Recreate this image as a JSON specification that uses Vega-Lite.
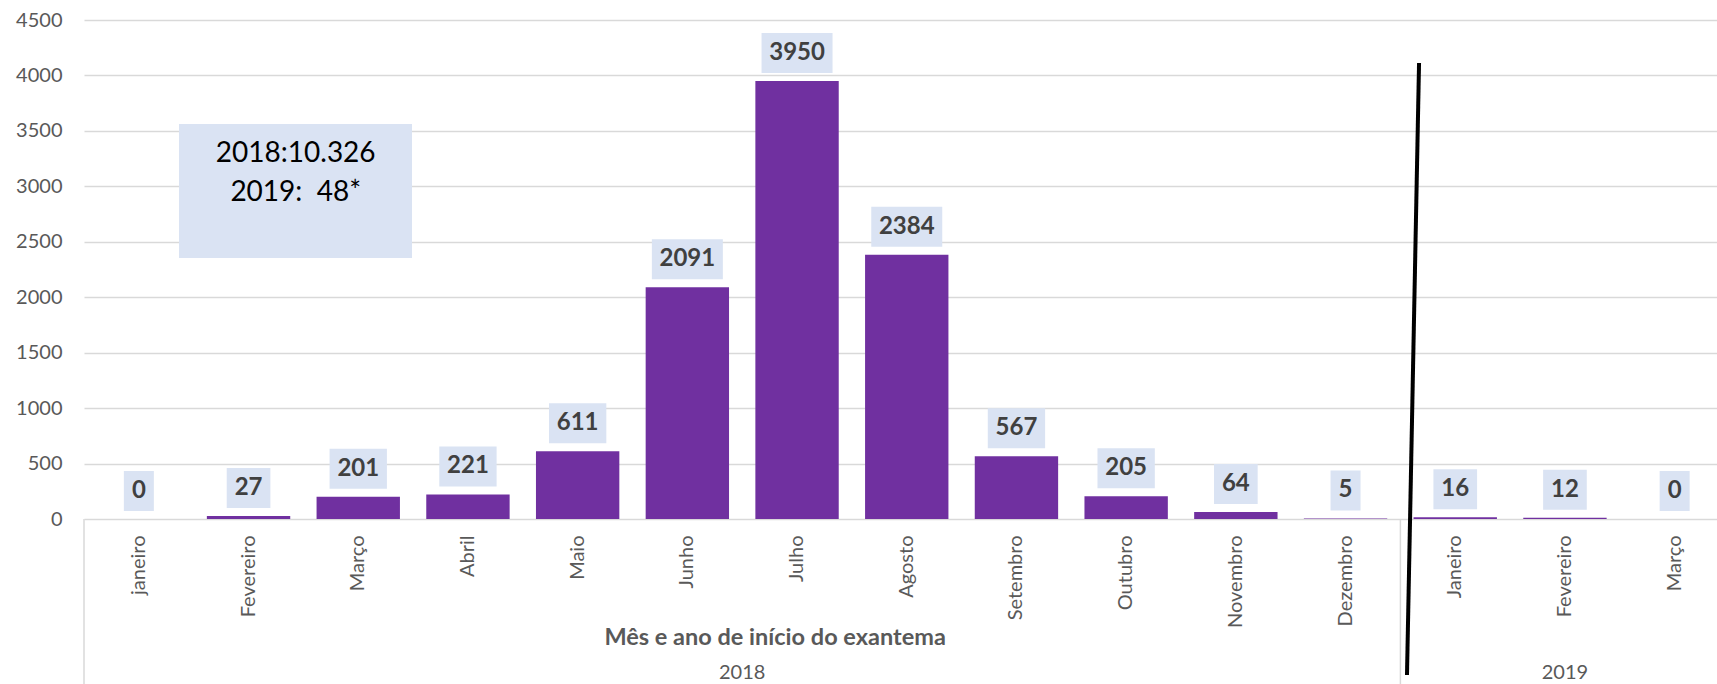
{
  "$schema": "https://vega.github.io/schema/vega-lite/v6.json",
  "width": 1633,
  "height": 499,
  "autosize": {"type": "none"},
  "padding": {"left": 84, "top": 20, "right": 0, "bottom": 165},
  "background": "white",
  "config": {"view": {"stroke": null}, "font": "Lato"},
  "datasets": {
    "casos": [
      {"mes": "janeiro|2018", "casos": 0},
      {"mes": "Fevereiro|2018", "casos": 27},
      {"mes": "Março|2018", "casos": 201},
      {"mes": "Abril|2018", "casos": 221},
      {"mes": "Maio|2018", "casos": 611},
      {"mes": "Junho|2018", "casos": 2091},
      {"mes": "Julho|2018", "casos": 3950},
      {"mes": "Agosto|2018", "casos": 2384},
      {"mes": "Setembro|2018", "casos": 567},
      {"mes": "Outubro|2018", "casos": 205},
      {"mes": "Novembro|2018", "casos": 64},
      {"mes": "Dezembro|2018", "casos": 5},
      {"mes": "Janeiro|2019", "casos": 16},
      {"mes": "Fevereiro|2019", "casos": 12},
      {"mes": "Março|2019", "casos": 0}
    ],
    "caixa": [{"x": 0.866, "x2": 2.99, "y": 3562, "y2": 2354}],
    "texto": [
      {"x": 1.93, "y": 3292, "t": "2018:10.326"},
      {"x": 1.93, "y": 2940, "t": "2019:\u00a0 48*"}
    ],
    "anos": [
      {"x": 6, "y": -1389, "t": "2018"},
      {"x": 13.5, "y": -1389, "t": "2019"}
    ],
    "titulo": [{"x": 6.3, "y": -1073, "t": "Mês e ano de início do exantema"}],
    "separadores": [
      {"x": 0, "y": 0, "y2": -1500},
      {"x": 12, "y": 0, "y2": -1500}
    ],
    "linha": [{"x": 12.17, "y": 4112, "x2": 12.06, "y2": -1407}]
  },
  "layer": [
    {
      "data": {"name": "casos"},
      "transform": [{"calculate": "length(toString(datum.casos))", "as": "digitos"}],
      "encoding": {
        "x": {
          "field": "mes",
          "type": "nominal",
          "sort": null,
          "scale": {"range": [0, 1645.5], "paddingInner": 0.24, "paddingOuter": 0.12},
          "axis": {
            "title": null,
            "labelExpr": "split(datum.value, '|')[0]",
            "labelAngle": -90,
            "labelAlign": "right",
            "labelBaseline": "middle",
            "labelFontSize": 20,
            "labelColor": "#595959",
            "labelFont": "Lato",
            "labelPadding": 16,
            "ticks": false,
            "domain": false,
            "grid": false
          }
        }
      },
      "layer": [
        {
          "mark": {"type": "bar", "color": "#7030A0"},
          "encoding": {
            "y": {
              "field": "casos",
              "type": "quantitative",
              "scale": {"domain": [0, 4500], "nice": false},
              "axis": {
                "title": null,
                "values": [0, 500, 1000, 1500, 2000, 2500, 3000, 3500, 4000, 4500],
                "format": "d",
                "labelFontSize": 20,
                "labelColor": "#595959",
                "labelFont": "Lato",
                "labelPadding": 22,
                "ticks": false,
                "domain": false,
                "grid": true,
                "gridColor": "#D9D9D9",
                "gridWidth": 1.5
              }
            }
          }
        },
        {
          "mark": {"type": "bar", "color": "#DAE3F3", "yOffset": -48, "y2Offset": -8},
          "encoding": {
            "y": {"field": "casos", "type": "quantitative", "scale": {"domain": [0, 4500], "nice": false}},
            "y2": {"field": "casos"},
            "size": {"field": "digitos", "type": "quantitative", "scale": {"domain": [1, 4], "range": [30, 71]}, "legend": null}
          }
        },
        {
          "mark": {"type": "text", "dy": -28, "fontWeight": "bold", "fontSize": 24, "color": "#404040", "baseline": "middle", "align": "center", "font": "Lato"},
          "encoding": {
            "y": {"field": "casos", "type": "quantitative", "scale": {"domain": [0, 4500], "nice": false}},
            "text": {"field": "casos", "type": "quantitative", "format": "d"}
          }
        }
      ]
    },
    {
      "layer": [
        {
          "data": {"name": "caixa"},
          "mark": {"type": "rect", "color": "#DAE3F3"},
          "encoding": {
            "x": {"field": "x", "type": "quantitative", "scale": {"domain": [0, 15], "range": [0, 1645.5], "nice": false, "zero": false}, "axis": null},
            "x2": {"field": "x2"},
            "y": {"field": "y", "type": "quantitative", "scale": {"domain": [0, 4500], "nice": false}, "axis": null},
            "y2": {"field": "y2"}
          }
        },
        {
          "data": {"name": "texto"},
          "mark": {"type": "text", "fontSize": 28, "color": "#000000", "align": "center", "baseline": "middle", "font": "Lato"},
          "encoding": {
            "x": {"field": "x", "type": "quantitative", "scale": {"domain": [0, 15], "range": [0, 1645.5], "nice": false, "zero": false}, "axis": null},
            "y": {"field": "y", "type": "quantitative", "scale": {"domain": [0, 4500], "nice": false}, "axis": null},
            "text": {"field": "t"}
          }
        },
        {
          "data": {"name": "anos"},
          "mark": {"type": "text", "fontSize": 20, "color": "#595959", "align": "center", "baseline": "middle", "font": "Lato"},
          "encoding": {
            "x": {"field": "x", "type": "quantitative", "scale": {"domain": [0, 15], "range": [0, 1645.5], "nice": false, "zero": false}, "axis": null},
            "y": {"field": "y", "type": "quantitative", "scale": {"domain": [0, 4500], "nice": false}, "axis": null},
            "text": {"field": "t"}
          }
        },
        {
          "data": {"name": "titulo"},
          "mark": {"type": "text", "fontSize": 23.5, "fontWeight": "bold", "color": "#595959", "align": "center", "baseline": "middle", "font": "Lato"},
          "encoding": {
            "x": {"field": "x", "type": "quantitative", "scale": {"domain": [0, 15], "range": [0, 1645.5], "nice": false, "zero": false}, "axis": null},
            "y": {"field": "y", "type": "quantitative", "scale": {"domain": [0, 4500], "nice": false}, "axis": null},
            "text": {"field": "t"}
          }
        },
        {
          "data": {"name": "separadores"},
          "mark": {"type": "rule", "color": "#D9D9D9", "strokeWidth": 1.5},
          "encoding": {
            "x": {"field": "x", "type": "quantitative", "scale": {"domain": [0, 15], "range": [0, 1645.5], "nice": false, "zero": false}, "axis": null},
            "y": {"field": "y", "type": "quantitative", "scale": {"domain": [0, 4500], "nice": false}, "axis": null},
            "y2": {"field": "y2"}
          }
        },
        {
          "data": {"name": "linha"},
          "mark": {"type": "rule", "color": "#000000", "strokeWidth": 4},
          "encoding": {
            "x": {"field": "x", "type": "quantitative", "scale": {"domain": [0, 15], "range": [0, 1645.5], "nice": false, "zero": false}, "axis": null},
            "x2": {"field": "x2"},
            "y": {"field": "y", "type": "quantitative", "scale": {"domain": [0, 4500], "nice": false}, "axis": null},
            "y2": {"field": "y2"}
          }
        }
      ]
    }
  ],
  "resolve": {"scale": {"x": "independent", "y": "independent"}}
}
